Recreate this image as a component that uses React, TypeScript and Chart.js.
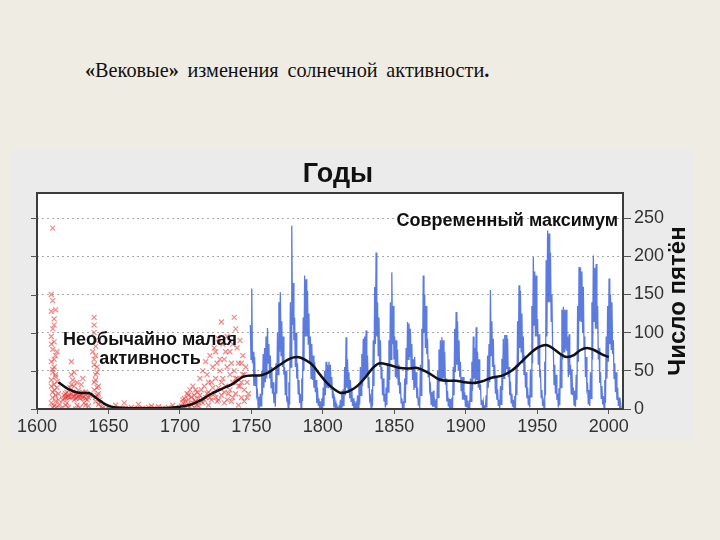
import React, { useEffect, useRef } from "react";
import { Chart, registerables } from "chart.js";

Chart.register(...registerables);

// ---------- DATA ----------
const xTickValues = [1600, 1650, 1700, 1750, 1800, 1850, 1900, 1950, 2000];
const yTickValues = [0, 50, 100, 150, 200, 250];

// Red crosses: early telescopic observations (year, sunspot number)
const redYears = [
  1611, 1610, 1611, 1610, 1612, 1611, 1610, 1612, 1611, 1613, 1610, 1612, 1611, 1613, 1614, 1610, 1612, 1615, 1611, 1613, 1616, 1614, 1617,
  1613, 1612, 1610, 1614, 1612, 1611, 1613, 1610, 1612, 1614, 1611, 1613, 1615, 1610, 1612, 1611,
  1618, 1619, 1620, 1621, 1622, 1623, 1624, 1624, 1625, 1625, 1626, 1626, 1627, 1628, 1628, 1629, 1630, 1630, 1631, 1632, 1633, 1634, 1635, 1636, 1637, 1622, 1627, 1620,
  1619, 1620, 1621, 1622, 1623, 1624, 1625, 1626, 1627, 1628, 1629, 1630, 1631, 1632, 1633, 1634, 1635, 1636, 1624, 1626, 1628, 1632, 1634, 1621,
  1639, 1640, 1640, 1641, 1641, 1640, 1642, 1641, 1643, 1640, 1642, 1644, 1643, 1645, 1641,
  1640, 1641, 1640, 1642, 1641, 1640, 1642, 1643, 1641, 1644,
  1646, 1648, 1650, 1652, 1654, 1655, 1656, 1658, 1660, 1661, 1662, 1664, 1666, 1668, 1670, 1671, 1672, 1674, 1676, 1678, 1680, 1680, 1682, 1684, 1685, 1686, 1688, 1690, 1692, 1694, 1695, 1696, 1698, 1700,
  1701, 1702, 1703, 1703, 1704, 1705, 1705, 1706, 1707, 1707, 1708, 1709, 1709, 1710, 1710, 1711, 1712, 1712, 1713,
  1702, 1704, 1706, 1708, 1710, 1711, 1713, 1714, 1715, 1717, 1719, 1721, 1723, 1725, 1727, 1729, 1731, 1733, 1735, 1737, 1739, 1741, 1743, 1745, 1747, 1720, 1728, 1732, 1737, 1743,
  1714, 1715, 1716, 1716, 1717, 1718, 1718, 1719, 1720, 1720, 1721, 1722, 1722, 1723, 1724, 1724, 1725, 1725, 1726, 1726, 1727, 1727, 1728, 1729, 1729, 1730, 1730, 1731, 1731, 1732, 1733, 1733, 1734, 1735, 1735, 1736, 1736, 1737, 1738, 1738, 1739, 1739, 1740, 1740, 1741, 1741, 1742, 1742, 1743, 1744, 1744, 1745, 1745, 1746, 1747, 1748,
];
const redValues = [
  237, 150, 142, 128, 118, 105, 95, 88, 78, 70, 62, 55, 48, 42, 36, 30, 25, 20, 15, 10, 6, 3, 1,
  130, 110, 85, 75, 65, 52, 45, 38, 32, 28, 22, 18, 12, 8, 4, 2,
  12, 18, 15, 22, 16, 28, 62, 45, 38, 16, 30, 12, 20, 15, 5, 25, 18, 2, 32, 15, 8, 22, 12, 4, 18, 2, 0, 5,
  14, 20, 16, 18, 15, 20, 22, 17, 14, 20, 16, 14, 18, 22, 16, 14, 20, 15, 32, 48, 35, 40, 5, 8,
  75, 120, 100, 90, 70, 58, 48, 38, 30, 25, 18, 12, 6, 3, 10,
  110, 82, 65, 55, 45, 35, 28, 20, 15, 8,
  1, 0, 2, 0, 1, 5, 0, 1, 0, 8, 1, 0, 2, 0, 1, 6, 0, 1, 0, 2, 4, 0, 1, 0, 3, 0, 1, 0, 2, 0, 5, 1, 0, 2,
  4, 8, 2, 14, 10, 20, 5, 12, 25, 3, 16, 8, 30, 18, 2, 10, 22, 5, 14,
  12, 3, 18, 6, 12, 25, 4, 18, 10, 12, 20, 15, 28, 15, 12, 35, 22, 12, 25, 15, 40, 30, 35, 45, 15, 35, 65, 75, 85, 60,
  40, 25, 8, 50, 30, 15, 62, 45, 22, 5, 70, 35, 12, 55, 80, 20, 75, 40, 10, 60, 92, 28, 50, 114, 18, 85, 40, 65, 8, 30, 55, 95, 20, 75, 45, 10, 60, 35, 120, 50, 105, 20, 80, 40, 60, 5, 30, 90, 15, 45, 70, 25, 10, 55, 35, 20,
];

// Blue: observed sunspot numbers 1749-2008, per year a high and a low monthly value
const blueFirstYear = 1749;
const blueHigh = [
  110, 158, 75, 68, 45, 22, 16, 20, 50, 72,
  80, 95, 106, 85, 70, 55, 35, 22, 60, 100,
  140, 153, 115, 95, 55, 50, 14, 35, 140, 240,
  165, 120, 100, 60, 38, 20, 40, 120, 175, 170,
  155, 125, 95, 85, 70, 62, 38, 28, 14, 10,
  14, 28, 50, 62, 58, 62, 58, 42, 20, 16,
  7, 2, 5, 12, 24, 26, 55, 94, 65, 48,
  38, 28, 14, 10, 6, 18, 30, 55, 72, 92,
  95, 103, 70, 42, 16, 26, 90, 160, 205, 140,
  120, 90, 55, 40, 20, 28, 60, 90, 140, 179,
  135, 95, 90, 78, 58, 35, 14, 10, 40, 80,
  114, 112, 105, 85, 65, 68, 48, 28, 15, 58,
  105, 175, 150, 135, 92, 65, 30, 22, 24, 9,
  13, 50, 78, 90, 94, 90, 75, 40, 24, 14,
  13, 15, 55, 105, 127, 115, 90, 62, 42, 42,
  22, 18, 7, 11, 40, 62, 95, 80, 107, 75,
  65, 32, 12, 9, 5, 18, 70, 85, 156, 115,
  92, 58, 42, 26, 12, 30, 66, 92, 97, 97,
  92, 55, 36, 20, 12, 17, 58, 115, 162, 155,
  125, 95, 70, 48, 28, 18, 52, 135, 199, 180,
  175, 118, 98, 48, 25, 10, 62, 195, 234, 230,
  205, 150, 80, 58, 45, 20, 27, 70, 130, 134,
  130, 130, 95, 98, 58, 52, 28, 24, 45, 135,
  186, 185, 180, 160, 95, 68, 30, 25, 48, 140,
  201, 185, 190, 135, 80, 48, 30, 17, 38, 95,
  135, 171, 150, 140, 90, 60, 48, 28, 15, 8,
];
const blueLow = [
  65, 60, 30, 30, 18, 2, 2, 4, 18, 28,
  35, 40, 60, 40, 28, 20, 8, 3, 20, 45,
  75, 70, 55, 45, 18, 12, 1, 6, 55, 110,
  90, 55, 40, 20, 8, 2, 10, 50, 95, 95,
  85, 60, 40, 38, 28, 22, 8, 5, 0, 0,
  0, 4, 18, 28, 28, 32, 26, 14, 2, 0,
  0, 0, 0, 0, 3, 4, 18, 28, 22, 14,
  10, 4, 0, 0, 0, 1, 6, 18, 30, 40,
  42, 45, 28, 12, 2, 4, 30, 85, 95, 70,
  55, 40, 18, 10, 2, 5, 22, 38, 65, 85,
  65, 42, 40, 32, 20, 8, 0, 0, 8, 32,
  65, 68, 52, 38, 25, 28, 14, 5, 1, 18,
  48, 100, 80, 72, 42, 25, 6, 3, 3, 0,
  0, 15, 35, 38, 40, 40, 32, 10, 4, 0,
  0, 1, 18, 48, 58, 52, 42, 24, 12, 12,
  3, 2, 0, 0, 10, 24, 40, 32, 38, 28,
  25, 6, 0, 0, 0, 2, 28, 35, 70, 55,
  40, 20, 12, 4, 0, 6, 25, 40, 45, 52,
  42, 18, 8, 3, 0, 1, 18, 55, 80, 75,
  60, 45, 28, 14, 5, 2, 16, 60, 110, 95,
  95, 58, 45, 15, 4, 0, 18, 95, 140, 140,
  115, 80, 32, 20, 12, 2, 5, 28, 65, 75,
  78, 76, 42, 45, 20, 18, 5, 3, 12, 62,
  115, 115, 100, 80, 42, 26, 6, 4, 14, 65,
  115, 105, 105, 65, 34, 14, 6, 1, 8, 40,
  62, 85, 78, 72, 40, 22, 12, 4, 1, 0,
];

// Black: smoothed long-term average
const blackYears = [
  1615, 1622, 1631, 1636, 1641, 1649, 1655, 1670, 1685, 1700, 1708, 1715, 1722, 1730, 1737, 1744,
  1750, 1756, 1761, 1770, 1777, 1782, 1788, 1793, 1798, 1803, 1808, 1813, 1818, 1824, 1830, 1835,
  1840, 1846, 1853, 1859, 1865, 1870, 1875, 1881, 1887, 1893, 1899, 1905, 1911, 1918, 1926, 1932,
  1938, 1944, 1950, 1956, 1962, 1967, 1971, 1976, 1980, 1985, 1990, 1995, 2000,
];
const blackValues = [
  35, 26, 21, 21, 15, 5, 2, 1, 1, 3, 6, 12, 20, 27, 33, 42,
  44, 44, 47, 58, 66, 68, 64, 57, 45, 34, 26, 21, 23, 30, 42, 54,
  60, 58, 54, 53, 54, 51, 46, 39, 37, 37, 35, 34, 36, 41, 44, 50,
  60, 71, 80, 84, 78, 71, 68, 71, 77, 80, 77, 72, 68,
];

// ---------- TEXT ----------
const headingText = ["«", "Вековые", "»", " изменения солнечной активности", "."];
const chartTitle = "Годы";
const yAxisTitle = "Число пятён";
const noteModern = "Современный максимум";
const noteLowLines = ["Необычайно малая", "активность"];

const SANS = '"Liberation Sans", Arial, Helvetica, sans-serif';

export default function App() {
  const canvasRef = useRef<HTMLCanvasElement | null>(null);

  useEffect(() => {
    const canvas = canvasRef.current;
    if (!canvas) return;

    const redData = redYears.map((x, i) => ({ x, y: redValues[i] }));
    const blueData: { x: number; y: number }[] = [];
    blueHigh.forEach((h, i) => {
      blueData.push({ x: blueFirstYear + i + 0.25, y: h });
      blueData.push({ x: blueFirstYear + i + 0.75, y: blueLow[i] });
    });
    const blackData = blackYears.map((x, i) => ({ x, y: blackValues[i] }));

    const decorPlugin = {
      id: "decor",
      beforeDraw(chart: any) {
        const { ctx, chartArea: a } = chart;
        ctx.save();
        ctx.fillStyle = "#ffffff";
        ctx.fillRect(a.left, a.top, a.right - a.left, a.bottom - a.top);
        ctx.restore();
      },
      afterDatasetsDraw(chart: any) {
        const { ctx, chartArea: a } = chart;
        const ys = chart.scales.y;
        ctx.save();
        // frame
        ctx.strokeStyle = "#3c3c3c";
        ctx.lineWidth = 2;
        ctx.strokeRect(a.left, a.top, a.right - a.left, a.bottom - a.top);
        // left tick marks
        ctx.lineWidth = 1;
        ctx.strokeStyle = "#555";
        yTickValues.forEach((v) => {
          const py = Math.round(ys.getPixelForValue(v)) + 0.5;
          ctx.beginPath();
          ctx.moveTo(a.left - 6, py);
          ctx.lineTo(a.left, py);
          ctx.stroke();
        });

        ctx.fillStyle = "#111";
        // chart title
        ctx.font = `bold 27px ${SANS}`;
        ctx.textAlign = "center";
        ctx.textBaseline = "alphabetic";
        ctx.fillText(chartTitle, 326, 32);

        // annotations
        ctx.font = `bold 18px ${SANS}`;
        ctx.textAlign = "right";
        ctx.fillText(noteModern, a.right - 5, 76);
        ctx.textAlign = "center";
        ctx.fillText(noteLowLines[0], 138, 195);
        ctx.fillText(noteLowLines[1], 138, 214);

        // right axis title
        ctx.translate(666, 151);
        ctx.rotate(-Math.PI / 2);
        ctx.font = `bold 24px ${SANS}`;
        ctx.textAlign = "center";
        ctx.textBaseline = "middle";
        ctx.fillText(yAxisTitle, 0, 0);
        ctx.restore();
      },
    };

    const chart = new Chart(canvas, {
      type: "scatter",
      data: {
        datasets: [
          {
            type: "scatter",
            data: redData,
            pointStyle: "crossRot",
            pointRadius: 3.5,
            borderColor: "rgba(230,60,60,0.6)",
            backgroundColor: "rgba(230,60,60,0.3)",
            borderWidth: 1.2,
            order: 3,
          } as any,
          {
            type: "line",
            data: blueData,
            borderColor: "rgba(50,90,215,0.8)",
            borderWidth: 1.3,
            pointRadius: 0,
            tension: 0,
            fill: false,
            order: 2,
          } as any,
          {
            type: "line",
            data: blackData,
            borderColor: "#111111",
            borderWidth: 2.5,
            pointRadius: 0,
            cubicInterpolationMode: "monotone",
            fill: false,
            order: 1,
          } as any,
        ],
      },
      options: {
        responsive: false,
        animation: false,
        devicePixelRatio: 1,
        layout: { padding: { left: 25, top: 43, right: 0, bottom: 0 } },
        plugins: {
          legend: { display: false },
          tooltip: { enabled: false },
          title: { display: false },
        },
        scales: {
          x: {
            type: "linear",
            min: 1600,
            max: 2010,
            afterFit: (s: any) => {
              s.height = 30;
            },
            afterBuildTicks: (s: any) => {
              s.ticks = xTickValues.map((v) => ({ value: v }));
            },
            ticks: {
              includeBounds: false,
              autoSkip: false,
              maxRotation: 0,
              padding: 2,
              color: "#333",
              font: { family: SANS, size: 18 },
              callback: (v: any) => String(v),
            },
            grid: {
              drawOnChartArea: false,
              drawTicks: true,
              tickLength: 5,
              color: "#555",
            },
            border: { display: false },
          },
          y: {
            type: "linear",
            position: "right",
            min: 0,
            max: 283,
            afterFit: (s: any) => {
              s.width = 70;
            },
            afterBuildTicks: (s: any) => {
              s.ticks = yTickValues.map((v) => ({ value: v }));
            },
            ticks: {
              includeBounds: false,
              padding: 3,
              color: "#333",
              font: { family: SANS, size: 18 },
              callback: (v: any) => String(v),
            },
            grid: {
              drawOnChartArea: true,
              drawTicks: true,
              tickLength: 8,
              color: "#a8a8a8",
              tickColor: "#555",
              tickBorderDash: [],
            },
            border: { display: false, dash: [2, 3] },
          },
        },
      },
      plugins: [decorPlugin],
    } as any);

    return () => {
      chart.destroy();
    };
  }, []);

  return (
    <div style={{ position: "fixed", inset: 0, background: "#efece3", overflow: "hidden" }}>
      <div
        style={{
          position: "absolute",
          left: 85,
          top: 59,
          fontFamily: '"Liberation Serif", "Times New Roman", serif',
          fontSize: 22,
          lineHeight: "22px",
          whiteSpace: "nowrap",
          wordSpacing: 4,
          color: "#111",
          transform: "scaleX(0.92)",
          transformOrigin: "left top",
        }}
      >
        <b>{headingText[0]}</b>
        {headingText[1]}
        <b>{headingText[2]}</b>
        {headingText[3]}
        <b>{headingText[4]}</b>
      </div>
      <div
        style={{
          position: "absolute",
          left: 12,
          top: 150,
          width: 681,
          height: 289,
          background: "#ebebeb",
        }}
      >
        <canvas ref={canvasRef} width={681} height={289} style={{ display: "block" }} />
      </div>
    </div>
  );
}
